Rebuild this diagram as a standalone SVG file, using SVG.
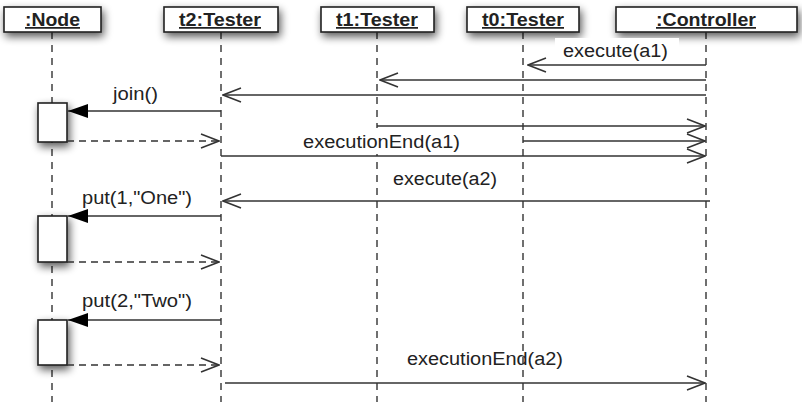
<svg xmlns="http://www.w3.org/2000/svg" width="802" height="420" viewBox="0 0 802 420">
<style>
.hdr{fill:#fff;stroke:#222;stroke-width:1.6;filter:url(#sh)}
.htxt{font-family:"Liberation Sans",Arial,Helvetica,sans-serif;font-weight:bold;font-size:17.5px;fill:#222;text-anchor:middle;text-decoration:underline}
.life{stroke:#333;stroke-width:1.4;stroke-dasharray:7 6;fill:none}
.act{fill:#fff;stroke:#222;stroke-width:1.6;filter:url(#sh)}
.msg{stroke:#333;stroke-width:1.5;fill:none}
.ret{stroke:#333;stroke-width:1.5;fill:none;stroke-dasharray:7 5}
.lbl{font-family:"Liberation Sans",Arial,Helvetica,sans-serif;font-size:18px;fill:#222}
</style>
<defs>
<filter id="sh" x="-40%" y="-40%" width="180%" height="200%">
<feGaussianBlur in="SourceAlpha" stdDeviation="4"/>
<feOffset dx="2" dy="4" result="b"/>
<feComponentTransfer><feFuncA type="linear" slope="0.65"/></feComponentTransfer>
<feMerge><feMergeNode/><feMergeNode in="SourceGraphic"/></feMerge>
</filter>
<marker id="open" viewBox="0 0 20 16" refX="19" refY="8" markerWidth="20" markerHeight="16" markerUnits="userSpaceOnUse" orient="auto">
<path d="M1,1 L19,8 L1,15" fill="none" stroke="#333" stroke-width="1.5"/>
</marker>
<marker id="fill" viewBox="0 0 20 16" refX="20" refY="8" markerWidth="20" markerHeight="16" markerUnits="userSpaceOnUse" orient="auto">
<path d="M0,1 L20,8 L0,15 Z" fill="#000"/>
</marker>
</defs>
<rect width="802" height="420" fill="#fff"/>

<g id="lifelines">
<line class="life" x1="52" y1="32" x2="52" y2="402"/>
<line class="life" x1="221" y1="32" x2="221" y2="402"/>
<line class="life" x1="377" y1="32" x2="377" y2="402"/>
<line class="life" x1="523" y1="32" x2="523" y2="402"/>
<line class="life" x1="706" y1="32" x2="706" y2="402"/>
</g>

<g id="node">
<rect class="hdr" x="4" y="7" width="97" height="25"/>
<text class="htxt" x="52.5" y="26" textLength="55" lengthAdjust="spacingAndGlyphs">:Node</text>
</g>
<g id="t2">
<rect class="hdr" x="164" y="7" width="114" height="25"/>
<text class="htxt" x="220" y="26" textLength="82" lengthAdjust="spacingAndGlyphs">t2:Tester</text>
</g>
<g id="t1">
<rect class="hdr" x="321" y="7" width="113" height="25"/>
<text class="htxt" x="377" y="26" textLength="82" lengthAdjust="spacingAndGlyphs">t1:Tester</text>
</g>
<g id="t0">
<rect class="hdr" x="467" y="7" width="112" height="25"/>
<text class="htxt" x="523" y="26" textLength="82" lengthAdjust="spacingAndGlyphs">t0:Tester</text>
</g>
<g id="controller">
<rect class="hdr" x="616" y="7" width="181" height="25"/>
<text class="htxt" x="706" y="26" textLength="100" lengthAdjust="spacingAndGlyphs">:Controller</text>
</g>

<g id="activations">
<rect class="act" x="38" y="103" width="29" height="39"/>
<rect class="act" x="38" y="216" width="29" height="46"/>
<rect class="act" x="38" y="320" width="29" height="45"/>
</g>

<g id="labels">
<rect x="555" y="38" width="124" height="24" fill="#fff"/>
<text class="lbl" x="563" y="57" textLength="105" lengthAdjust="spacingAndGlyphs">execute(a1)</text>
<text class="lbl" x="113" y="100" textLength="45" lengthAdjust="spacingAndGlyphs">join()</text>
<rect x="300" y="128" width="164" height="26" fill="#fff"/>
<text class="lbl" x="303" y="148" textLength="157" lengthAdjust="spacingAndGlyphs">executionEnd(a1)</text>
<text class="lbl" x="393" y="185" textLength="104" lengthAdjust="spacingAndGlyphs">execute(a2)</text>
<text class="lbl" x="82" y="204" textLength="110" lengthAdjust="spacingAndGlyphs">put(1,"One")</text>
<text class="lbl" x="82" y="307" textLength="110" lengthAdjust="spacingAndGlyphs">put(2,"Two")</text>
<text class="lbl" x="407" y="365" textLength="156" lengthAdjust="spacingAndGlyphs">executionEnd(a2)</text>
</g>

<g id="connectors">
<line class="msg" x1="706" y1="65" x2="528" y2="65" marker-end="url(#open)"/>
<line class="msg" x1="706" y1="80" x2="380" y2="80" marker-end="url(#open)"/>
<line class="msg" x1="706" y1="95" x2="223" y2="95" marker-end="url(#open)"/>
<line class="msg" x1="221" y1="111" x2="68" y2="111" marker-end="url(#fill)"/>
<line class="ret" x1="67" y1="141" x2="219" y2="141" marker-end="url(#open)"/>
<line class="msg" x1="377" y1="126" x2="705" y2="126" marker-end="url(#open)"/>
<line class="msg" x1="523" y1="141" x2="705" y2="141" marker-end="url(#open)"/>
<line class="msg" x1="221" y1="156" x2="705" y2="156" marker-end="url(#open)"/>
<line class="msg" x1="710" y1="201" x2="223" y2="201" marker-end="url(#open)"/>
<line class="msg" x1="221" y1="216" x2="68" y2="216" marker-end="url(#fill)"/>
<line class="ret" x1="67" y1="262" x2="219" y2="262" marker-end="url(#open)"/>
<line class="msg" x1="221" y1="320" x2="68" y2="320" marker-end="url(#fill)"/>
<line class="ret" x1="67" y1="365" x2="219" y2="365" marker-end="url(#open)"/>
<line class="msg" x1="225" y1="383" x2="705" y2="383" marker-end="url(#open)"/>
</g>
</svg>
